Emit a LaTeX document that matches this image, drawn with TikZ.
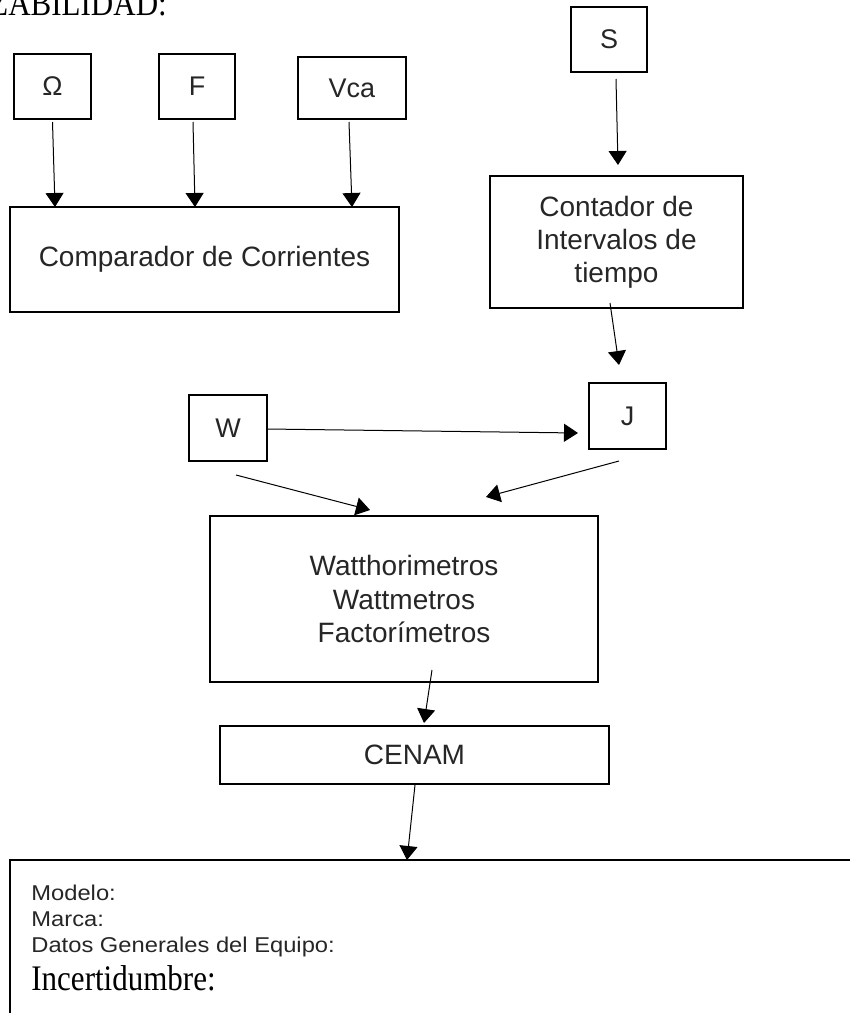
\documentclass[tikz,border=0pt]{standalone}
\usepackage{fontspec}
\setmainfont{Liberation Serif}
\newfontfamily\arialf{Liberation Sans}
\usetikzlibrary{arrows.meta}
\definecolor{txt}{HTML}{262626}
\begin{document}
\begin{tikzpicture}[x=0.5pt,y=-0.5pt,
  box/.style={draw=black, line width=1pt, inner sep=0pt, outer sep=0pt,
    font=\arialf\fontsize{14pt}{16.6pt}\selectfont, text=txt, align=center},
  smallbox/.style={box, font=\arialf\fontsize{13.5pt}{15pt}\selectfont},
  arr/.style={-{Triangle[length=7pt,width=9pt]}, line width=0.5pt, black},
  infotext/.style={anchor=base west, inner sep=0pt, text=txt, font=\arialf\fontsize{10.5pt}{12pt}\selectfont}]
\useasboundingbox (0,0) rectangle (850,1013);
\clip (0,0) rectangle (850,1013);

% title (cut off at the top-left)
\node[anchor=base west, inner sep=0pt, font=\fontsize{15.5pt}{18pt}\selectfont] (title) at (-11,15) {\scalebox{1}[1.16]{ZABILIDAD:}};

% top boxes
\node[smallbox, minimum width=38.5pt, minimum height=32.5pt] (om) at (52.5,86.5) {Ω};
\node[smallbox, minimum width=38pt, minimum height=32.5pt] (f) at (197,86.5) {F};
\node[smallbox, minimum width=54pt, minimum height=31pt] (vca) at (352,88) {Vca};
\node[box, minimum width=194.5pt, minimum height=52.5pt] (comp) at (204.5,259.5) {Comparador de Corrientes};

\node[smallbox, minimum width=38pt, minimum height=32.5pt] (s) at (609,39.5) {S};
\node[box, minimum width=126.5pt, minimum height=66pt] (cont) at (616.5,242) {Contador de\\Intervalos de\\tiempo};

\node[smallbox, minimum width=38.5pt, minimum height=33pt] (j) at (627.5,416) {J};
\node[smallbox, minimum width=39pt, minimum height=33pt] (w) at (228,428) {W};

\node[box, minimum width=194pt, minimum height=83pt] (watt) at (404,599) {Watthorimetros\\Wattmetros\\Factorímetros};
\node[box, minimum width=194.5pt, minimum height=29pt] (cenam) at (414.5,755) {CENAM};

\node[draw=black, line width=1pt, inner sep=0pt, outer sep=0pt, minimum width=430pt, minimum height=85pt] (info) at (440,945) {};
\node[infotext] (modelo) at (31,900) {\scalebox{1.13}[1.02]{Modelo:}};
\node[infotext] (marca) at (31,926) {\scalebox{1.13}[1.02]{Marca:}};
\node[infotext] (datos) at (31,952) {\scalebox{1.13}[1.02]{Datos Generales del Equipo:}};
\node[anchor=base west, inner sep=0pt, font=\fontsize{15.5pt}{18pt}\selectfont] (inc) at (31,990) {\scalebox{1}[1.16]{Incertidumbre:}};

% connectors
\draw[arr] ([yshift=-1.5pt]om.south) -- ([xshift=-74.75pt]comp.north);
\draw[arr] ([xshift=-2pt,yshift=-1.5pt]f.south) -- ([xshift=-4.75pt]comp.north);
\draw[arr] ([xshift=-1.5pt,yshift=-1.5pt]vca.south) -- ([xshift=73.75pt]comp.north);
\draw[arr] ([xshift=3.5pt,yshift=-3.5pt]s.south) -- ([xshift=0.75pt,yshift=5.5pt]cont.north);
\draw[arr] ([xshift=-3.25pt,yshift=2.5pt]cont.south) -- ([xshift=-4.25pt,yshift=9pt]j.north);
\draw[arr] ([yshift=-0.5pt]w.east) -- ([xshift=-5.5pt,yshift=-8.5pt]j.west);
\draw[arr] ([xshift=4pt,yshift=-7pt]w.south) -- ([xshift=-17pt,yshift=3pt]watt.north);
\draw[arr] ([xshift=-4.25pt,yshift=-6pt]j.south) -- ([xshift=41pt,yshift=9.5pt]watt.north);
\draw[arr] ([xshift=14pt,yshift=6pt]watt.south) -- ([xshift=4.75pt,yshift=1.5pt]cenam.north);
\draw[arr] ([xshift=0.25pt,yshift=-0.5pt]cenam.south) -- ([xshift=-16.5pt]info.north);
\end{tikzpicture}
\end{document}
